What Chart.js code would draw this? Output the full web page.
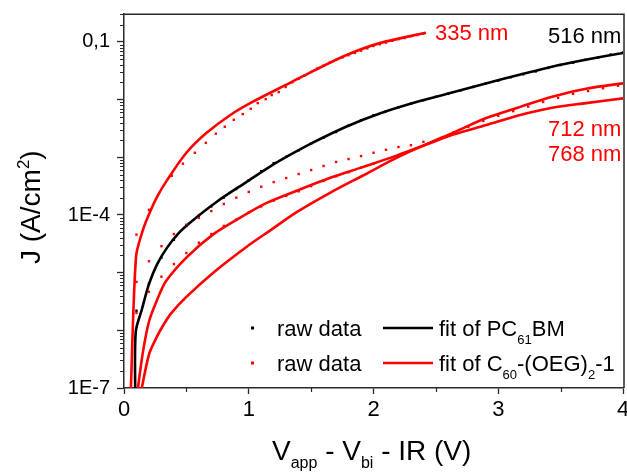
<!DOCTYPE html>
<html><head><meta charset="utf-8">
<script src="https://cdn.jsdelivr.net/npm/chart.js@4.4.1/dist/chart.umd.min.js"></script>
<style>html,body{margin:0;padding:0;background:#fff;}#wrap{width:627px;height:472px;}</style>
</head><body><div id="wrap"><canvas id="c" width="627" height="472"></canvas></div>
<script>
// ---------------- data (x in V, J in A/cm^2) ----------------
const fit335X = [0.052, 0.096, 0.144, 0.192, 0.264, 0.344, 0.5, 0.66, 0.85, 1.03, 1.33, 1.51, 1.78, 2.05, 2.42];
const fit335J = [6.3e-8, 1.86e-5, 4.90e-5, 9.33e-5, 2.04e-4, 3.98e-4, 1.20e-3, 2.63e-3, 5.37e-3, 9.12e-3, 1.95e-2, 3.09e-2, 5.89e-2, 9.55e-2, 0.1445];

const raw335X = [0.1, 0.2, 0.384, 0.472, 0.568, 0.656, 0.736, 0.808, 0.88, 0.952, 1.016, 1.072, 1.136, 1.184, 1.24, 1.296, 1.35, 1.40, 1.45, 1.50, 1.55, 1.60, 1.65, 1.70, 1.75, 1.80, 1.85, 1.90, 1.95, 2.00, 2.05, 2.10, 2.15, 2.20, 2.25, 2.30, 2.35, 2.40];
const raw335J = [4.57e-5, 1.23e-4, 4.79e-4, 7.76e-4, 1.20e-3, 1.78e-3, 2.57e-3, 3.39e-3, 4.47e-3, 5.62e-3, 6.92e-3, 8.71e-3, 1.02e-2, 1.20e-2, 1.35e-2, 1.66e-2, 2.00e-2, 2.29e-2, 2.63e-2, 3.02e-2, 3.47e-2, 3.89e-2, 4.37e-2, 4.90e-2, 5.37e-2, 5.89e-2, 6.46e-2, 7.08e-2, 7.76e-2, 8.51e-2, 9.12e-2, 9.77e-2, 0.105, 0.112, 0.117, 0.126, 0.132, 0.140];

const fit516X = [0.09, 0.094, 0.144, 0.2, 0.264, 0.344, 0.44, 0.536, 0.744, 0.98, 1.17, 1.33, 1.51, 1.78, 2.05, 2.33, 2.63, 2.9, 3.17, 3.43, 3.7, 4.0];
const fit516J = [6.3e-8, 9.33e-7, 2.34e-6, 6.31e-6, 1.38e-5, 2.69e-5, 4.90e-5, 7.59e-5, 1.70e-4, 3.72e-4, 6.92e-4, 1.10e-3, 1.78e-3, 3.39e-3, 5.75e-3, 8.91e-3, 1.33e-2, 1.91e-2, 2.69e-2, 3.72e-2, 4.90e-2, 6.46e-2];

const raw516X = [0.1, 0.2, 0.3, 0.4, 0.5, 0.6, 0.7, 0.8, 0.9, 1.0, 1.1, 1.2, 1.3, 1.4, 1.5, 1.6, 1.7, 1.8, 1.9, 2.0, 2.1, 2.2, 2.3, 2.4, 2.5, 2.6, 2.7, 2.8, 2.9, 3.0, 3.1, 3.2, 3.3, 3.4, 3.5, 3.6, 3.7, 3.8, 3.9, 4.0];
const raw516J = [2.19e-6, 6.46e-6, 1.82e-5, 3.72e-5, 6.46e-5, 9.77e-5, 1.41e-4, 2.00e-4, 2.82e-4, 3.98e-4, 5.75e-4, 7.94e-4, 1.02e-3, 1.32e-3, 1.74e-3, 2.19e-3, 2.75e-3, 3.55e-3, 4.37e-3, 5.37e-3, 6.31e-3, 7.41e-3, 8.51e-3, 9.77e-3, 1.12e-2, 1.26e-2, 1.45e-2, 1.66e-2, 1.91e-2, 2.14e-2, 2.45e-2, 2.75e-2, 3.09e-2, 3.55e-2, 3.98e-2, 4.37e-2, 4.90e-2, 5.37e-2, 6.03e-2, 6.61e-2];

const fit712X = [0.125, 0.2, 0.264, 0.312, 0.376, 0.5, 0.744, 0.984, 1.184, 1.384, 1.648, 1.912, 2.184, 2.448, 2.632, 2.904, 3.168, 3.432, 3.704, 4.024];
const fit712J = [6.31e-8, 3.80e-7, 7.76e-7, 1.20e-6, 1.95e-6, 3.80e-6, 1.12e-5, 2.82e-5, 5.62e-5, 1.12e-4, 2.40e-4, 4.79e-4, 9.77e-4, 1.78e-3, 2.63e-3, 4.79e-3, 7.41e-3, 1.12e-2, 1.55e-2, 1.95e-2];

const raw712X = [0.1, 0.2, 0.3, 0.4, 0.5, 0.6, 0.7, 0.8, 0.9, 1.0, 1.1, 1.2, 1.3, 1.4, 1.5, 1.6, 1.7, 1.8, 1.9, 2.0, 2.1, 2.2, 2.3, 2.4, 2.52, 2.64, 2.76, 2.88, 3.0, 3.12, 3.24, 3.36, 3.48, 3.6, 3.72, 3.84, 3.96];
const raw712J = [6.92e-6, 1.58e-5, 2.88e-5, 4.68e-5, 6.76e-5, 8.91e-5, 1.17e-4, 1.55e-4, 2.00e-4, 2.51e-4, 3.09e-4, 3.72e-4, 4.37e-4, 5.13e-4, 6.03e-4, 7.08e-4, 8.32e-4, 9.33e-4, 1.05e-3, 1.20e-3, 1.35e-3, 1.51e-3, 1.62e-3, 1.86e-3, 2.04e-3, 2.69e-3, 3.39e-3, 4.27e-3, 5.25e-3, 6.31e-3, 7.59e-3, 9.12e-3, 1.07e-2, 1.26e-2, 1.41e-2, 1.58e-2, 1.74e-2];

const fit768X = [0.1, 0.15, 0.2, 0.26, 0.336, 0.504, 0.712, 0.928, 1.144, 1.384, 1.648, 1.912, 2.184, 2.448, 2.632, 2.904, 3.168, 3.432, 3.704, 4.024];
const fit768J = [6.31e-8, 3.98e-7, 1.41e-6, 3.16e-6, 7.08e-6, 1.86e-5, 4.57e-5, 8.91e-5, 1.62e-4, 2.63e-4, 4.37e-4, 6.76e-4, 1.07e-3, 1.74e-3, 2.45e-3, 3.63e-3, 5.37e-3, 7.24e-3, 8.71e-3, 1.07e-2];

const raw768X = [0.1, 0.2, 0.3, 0.4, 0.5, 0.6, 0.7, 0.8, 0.9, 1.0, 1.1, 1.2, 1.3, 1.4, 1.5, 1.6, 1.7, 1.8, 1.9, 2.0];
const raw768J = [2.00e-6, 4.68e-6, 8.51e-6, 1.41e-5, 2.19e-5, 3.31e-5, 4.68e-5, 6.46e-5, 8.32e-5, 1.10e-4, 1.41e-4, 1.78e-4, 2.14e-4, 2.57e-4, 3.16e-4, 3.89e-4, 4.68e-4, 5.50e-4, 6.61e-4, 7.76e-4];

// axis ticks / labels
const xTickValues = [0, 1, 2, 3, 4];
const yTickValues = [1e-7, 1e-6, 1e-5, 1e-4, 1e-3, 1e-2, 1e-1];
const yTickLabels = ['1E-7', '', '', '1E-4', '', '', '0,1'];
const curveLabels = ['335 nm', '516 nm', '712 nm', '768 nm'];

// ---------------- styling ----------------
const FONT = "'Liberation Sans', Arial, Helvetica, sans-serif";
const RED = '#ff0000', BLACK = '#000000', AXIS = '#2a2a2a';
const X_MIN = 0, X_MAX = 4, Y_MIN = 1e-7, Y_MAX = 0.3055;

const pts = (xs, ys) => xs.map((x, i) => ({x: x, y: ys[i]}));
const fitDS = (xs, ys, col) => ({data: pts(xs, ys), showLine: true, borderColor: col, borderWidth: 2.6,
  pointRadius: 0, tension: 0.3, fill: false, order: 2, clip: 0});
const rawDS = (xs, ys, col) => ({data: pts(xs, ys), showLine: false, pointStyle: 'rect', pointRadius: 1.7,
  backgroundColor: col, borderWidth: 0, order: 1});

function rich(ctx, x, y, parts, size, subSize, subOff, supOff, color) {
  ctx.fillStyle = color;
  ctx.textAlign = 'left';
  ctx.textBaseline = 'alphabetic';
  let cx = x;
  for (const [t, m] of parts) {
    const fs = m ? subSize : size;
    ctx.font = fs + 'px ' + FONT;
    const dy = m === 1 ? subOff : (m === 2 ? -supOff : 0);
    ctx.fillText(t, cx, y + dy);
    cx += ctx.measureText(t).width;
  }
}

const decor = {
  id: 'decor',
  afterDraw(chart) {
    const ctx = chart.ctx, a = chart.chartArea, xs = chart.scales.x, ys = chart.scales.y;
    ctx.save();
    // frame top/right
    ctx.strokeStyle = AXIS; ctx.lineWidth = 1.5;
    ctx.beginPath();
    ctx.moveTo(a.left, a.top + 0.25); ctx.lineTo(a.right + 1, a.top + 0.25); ctx.lineTo(a.right + 1, a.bottom);
    ctx.stroke();
    // minor ticks
    ctx.lineWidth = 1.2;
    ctx.beginPath();
    [0.5, 1.5, 2.5, 3.5].forEach(v => { const px = Math.round(xs.getPixelForValue(v)) + 0.5; ctx.moveTo(px, a.bottom); ctx.lineTo(px, a.bottom + 4); });
    for (let e = -7; e <= -1; e++) {
      for (let m = 2; m <= 9; m++) {
        const v = m * Math.pow(10, e);
        if (v > Y_MAX) break;
        const py = Math.round(ys.getPixelForValue(v)) + 0.5;
        ctx.moveTo(a.left, py); ctx.lineTo(a.left - 4, py);
      }
    }
    ctx.stroke();
    // axis titles
    rich(ctx, 272, 460, [['V', 0], ['app', 1], [' - V', 0], ['bi', 1], [' - IR (V)', 0]], 28, 16, 8, 0, BLACK);
    ctx.save();
    ctx.translate(40, 264); ctx.rotate(-Math.PI / 2);
    rich(ctx, 0, 0, [['J (A/cm', 0], ['2', 2], [')', 0]], 28, 17, 0, 11, BLACK);
    ctx.restore();
    // curve labels
    ctx.font = '22px ' + FONT; ctx.textAlign = 'left'; ctx.textBaseline = 'alphabetic';
    ctx.fillStyle = RED; ctx.fillText(curveLabels[0], 435, 40);
    ctx.fillStyle = BLACK; ctx.fillText(curveLabels[1], 548, 43);
    ctx.fillStyle = RED; ctx.fillText(curveLabels[2], 548, 136); ctx.fillText(curveLabels[3], 548, 161);
    // legend
    const rows = [{y: 328, col: BLACK, parts: [['fit of PC', 0], ['61', 1], ['BM', 0]]},
                  {y: 363, col: RED, parts: [['fit of C', 0], ['60', 1], ['-(OEG)', 0], ['2', 1], ['-1', 0]]}];
    rows.forEach(r => {
      ctx.fillStyle = r.col; ctx.fillRect(251, r.y - 1.5, 3, 3);
      rich(ctx, 277, r.y + 8, [['raw data', 0]], 22, 13, 8, 0, BLACK);
      ctx.strokeStyle = r.col; ctx.lineWidth = 2.6;
      ctx.beginPath(); ctx.moveTo(383, r.y); ctx.lineTo(433, r.y); ctx.stroke();
      rich(ctx, 439, r.y + 8, r.parts, 22, 13, 8, 0, BLACK);
    });
    ctx.restore();
  }
};

new Chart(document.getElementById('c'), {
  type: 'scatter',
  data: {datasets: [
    rawDS(raw335X, raw335J, RED),
    rawDS(raw516X, raw516J, BLACK),
    rawDS(raw712X, raw712J, RED),
    rawDS(raw768X, raw768J, RED),
    fitDS(fit335X, fit335J, RED),
    fitDS(fit516X, fit516J, BLACK),
    fitDS(fit712X, fit712J, RED),
    fitDS(fit768X, fit768J, RED)
  ]},
  options: {
    responsive: false, animation: false, devicePixelRatio: 1, events: [],
    layout: {padding: {top: 14, right: 2, left: 0, bottom: 0}},
    plugins: {legend: {display: false}, tooltip: {enabled: false}},
    scales: {
      x: {type: 'linear', position: 'bottom', min: X_MIN, max: X_MAX,
        afterBuildTicks: s => { s.ticks = xTickValues.map(v => ({value: v})); },
        afterFit: s => { s.height = 84; s.paddingLeft = 0; s.paddingRight = 0; },
        ticks: {font: {family: FONT, size: 22}, color: BLACK, padding: 3, maxRotation: 0, autoSkip: false},
        grid: {display: true, drawOnChartArea: false, drawTicks: true, tickLength: 6, tickColor: AXIS, tickWidth: 1.3},
        border: {display: true, color: AXIS, width: 1.5}},
      y: {type: 'logarithmic', position: 'left', min: Y_MIN, max: Y_MAX,
        afterBuildTicks: s => { s.ticks = yTickValues.map(v => ({value: v, major: true})); },
        afterFit: s => { s.width = 124; s.paddingTop = 0; s.paddingBottom = 0; },
        ticks: {font: {family: FONT, size: 20}, color: BLACK, padding: 7, autoSkip: false,
          callback: (v, i) => yTickLabels[i]},
        grid: {display: true, drawOnChartArea: false, drawTicks: true, tickLength: 7, tickColor: AXIS, tickWidth: 1.3},
        border: {display: true, color: AXIS, width: 1.5}}
    }
  },
  plugins: [decor]
});
</script>
</body></html>
